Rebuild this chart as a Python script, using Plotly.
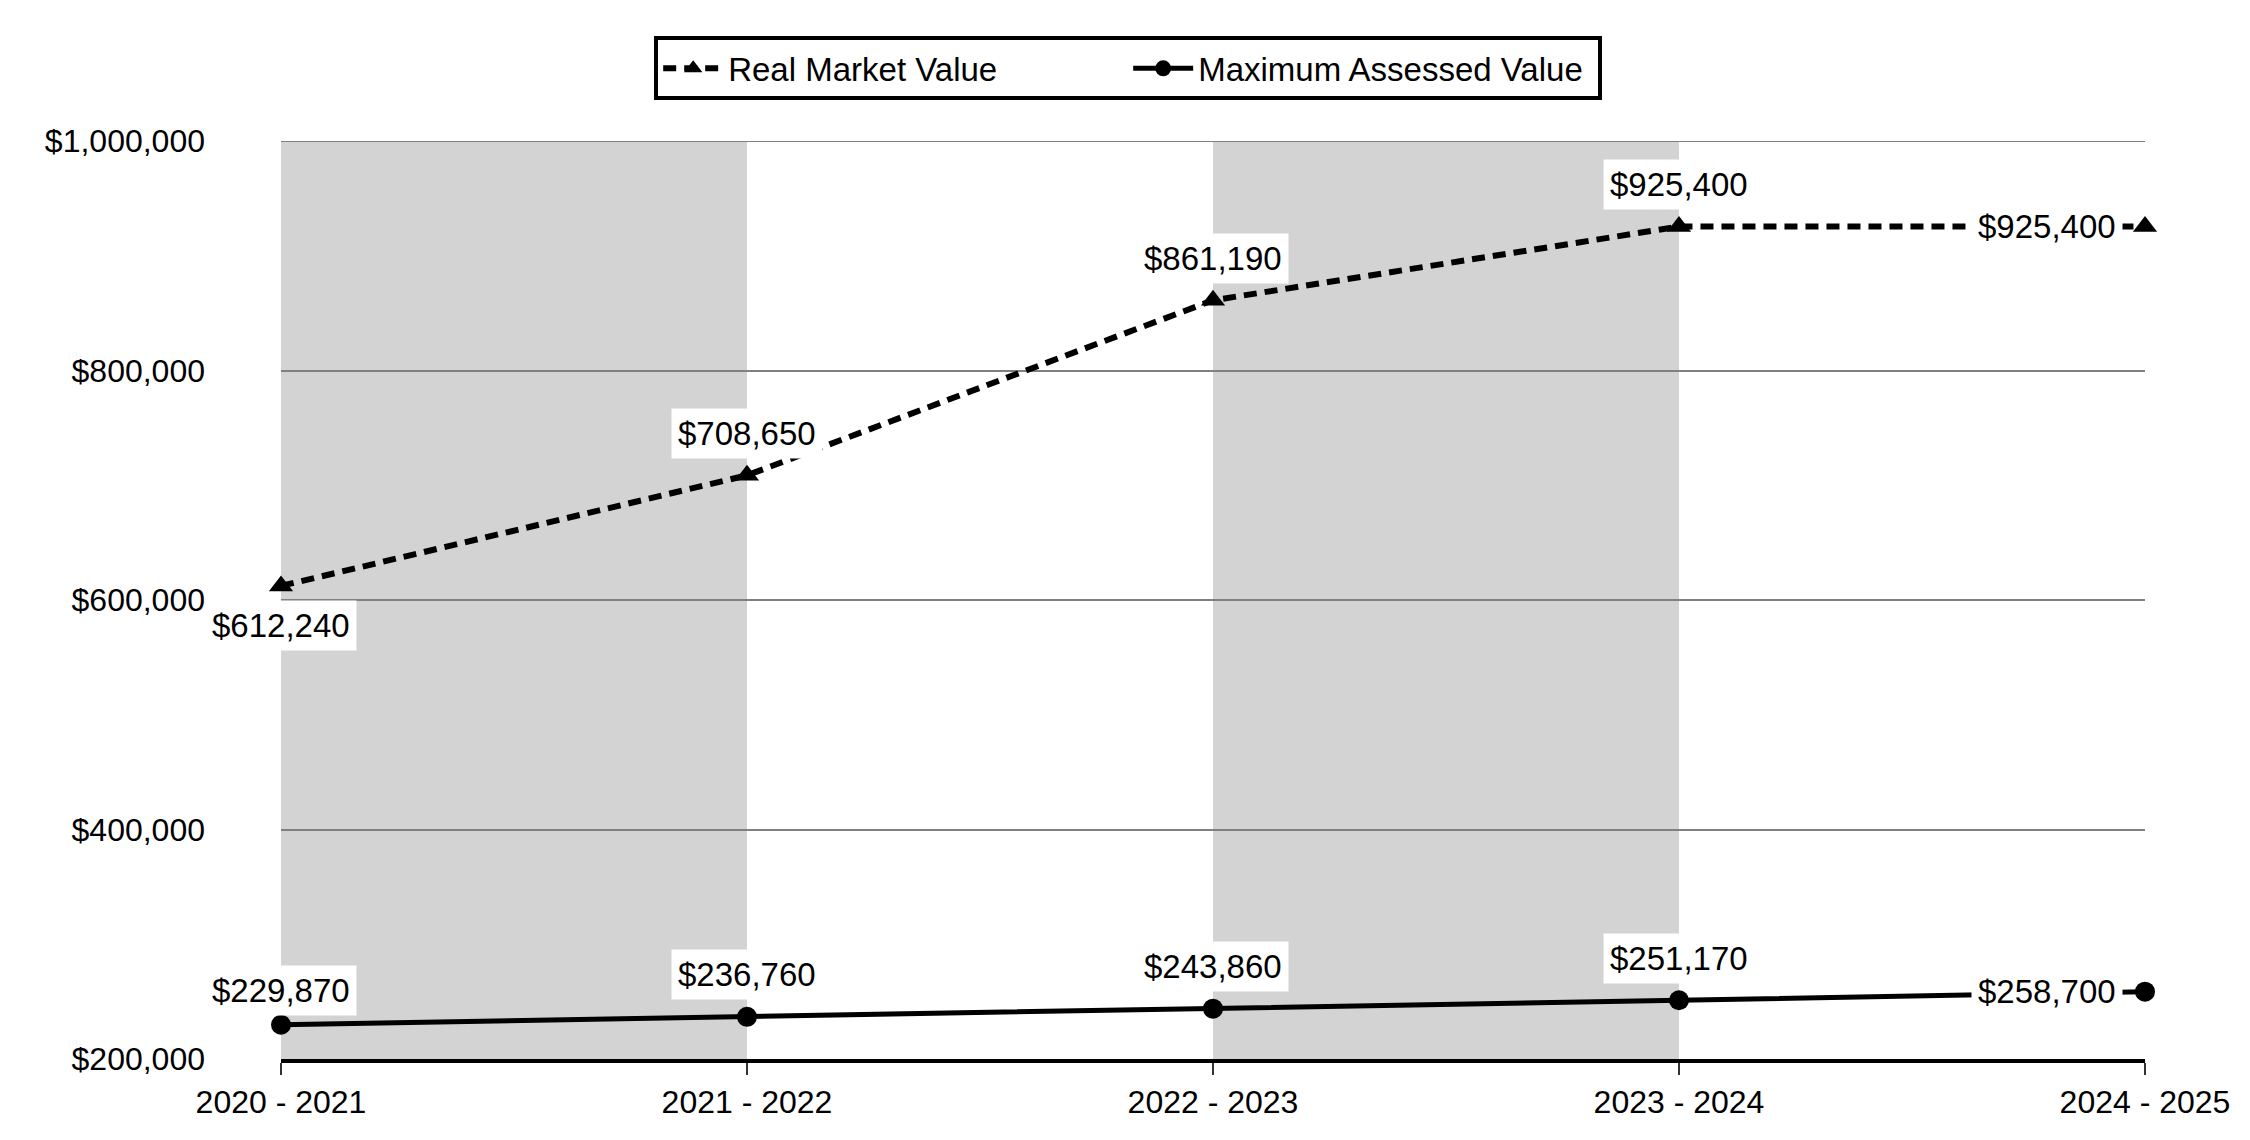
import plotly.graph_objects as go

categories = ["2020 - 2021", "2021 - 2022", "2022 - 2023", "2023 - 2024", "2024 - 2025"]
real_market_value = [612240, 708650, 861190, 925400, 925400]
max_assessed_value = [229870, 236760, 243860, 251170, 258700]
y_ticks = [200000, 400000, 600000, 800000, 1000000]
shaded_bands = [(0, 1), (2, 3)]

FONT = "Liberation Sans, Arial, sans-serif"
FS = 32
FS_LABEL = 33
GRID = "#808080"

fig = go.Figure()
fig.add_trace(go.Scatter(
    x=categories, y=real_market_value, name="Real Market Value",
    mode="lines+markers", cliponaxis=False,
    line=dict(color="black", width=6, dash="13px,8px"),
    marker=dict(symbol="triangle-up", size=21, color="black"),
))
fig.add_trace(go.Scatter(
    x=categories, y=max_assessed_value, name="Maximum Assessed Value",
    mode="lines+markers", cliponaxis=False,
    line=dict(color="black", width=5),
    marker=dict(symbol="circle", size=20, color="black"),
))

for a, b in shaded_bands:
    fig.add_shape(type="rect", xref="x", yref="paper", x0=a, x1=b, y0=0, y1=1,
                  fillcolor="#d3d3d3", line=dict(width=0), layer="below")
# top gridline (plotly omits the gridline at the range edge)
fig.add_shape(type="line", xref="paper", yref="y", x0=0, x1=1,
              y0=y_ticks[-1], y1=y_ticks[-1], line=dict(color=GRID, width=2), layer="below")

def fmt(v):
    return "${:,}".format(v)

annotations = []
n = len(categories)
for i, (c, v) in enumerate(zip(categories, real_market_value)):
    if i == 0:
        annotations.append(dict(x=c, y=v, text=fmt(v), yshift=-40, xanchor="center"))
    elif i == n - 1:
        annotations.append(dict(x=c, y=v, text=fmt(v), xshift=-22, xanchor="right"))
    else:
        annotations.append(dict(x=c, y=v, text=fmt(v), yshift=42, xanchor="center"))
for i, (c, v) in enumerate(zip(categories, max_assessed_value)):
    if i == n - 1:
        annotations.append(dict(x=c, y=v, text=fmt(v), xshift=-22, xanchor="right"))
    elif i == 0:
        annotations.append(dict(x=c, y=v, text=fmt(v), yshift=34, xanchor="center"))
    else:
        annotations.append(dict(x=c, y=v, text=fmt(v), yshift=42, xanchor="center"))
for a in annotations:
    a.update(xref="x", yref="y", showarrow=False, bgcolor="white", borderpad=6,
             font=dict(family=FONT, size=FS_LABEL, color="black"))
fig.update_layout(annotations=annotations)

fig.update_layout(
    width=2234, height=1124,
    margin=dict(l=273, r=93, t=133, b=71),
    paper_bgcolor="white", plot_bgcolor="white",
    font=dict(family=FONT, size=FS, color="black"),
    showlegend=True,
    legend=dict(orientation="h", x=0.4545, xanchor="center", y=1.114, yanchor="top",
                bordercolor="black", borderwidth=4, bgcolor="white",
                font=dict(family=FONT, size=FS_LABEL, color="black"),
                itemwidth=60, entrywidth=395, entrywidthmode="pixels"),
    xaxis=dict(type="category", range=[0, n - 1], showgrid=False,
               showline=True, linecolor="black", linewidth=4,
               ticks="outside", ticklen=12, tickcolor="#333333", tickwidth=1.5,
               tickfont=dict(family=FONT, size=FS, color="black")),
    yaxis=dict(range=[200000, 1000000], tickvals=y_ticks,
               ticktext=[fmt(t) for t in y_ticks],
               showgrid=True, gridcolor=GRID, gridwidth=2,
               zeroline=False, showline=False, ticks="",
               ticklabelstandoff=75,
               tickfont=dict(family=FONT, size=FS, color="black")),
)

fig.write_html("out.html")
